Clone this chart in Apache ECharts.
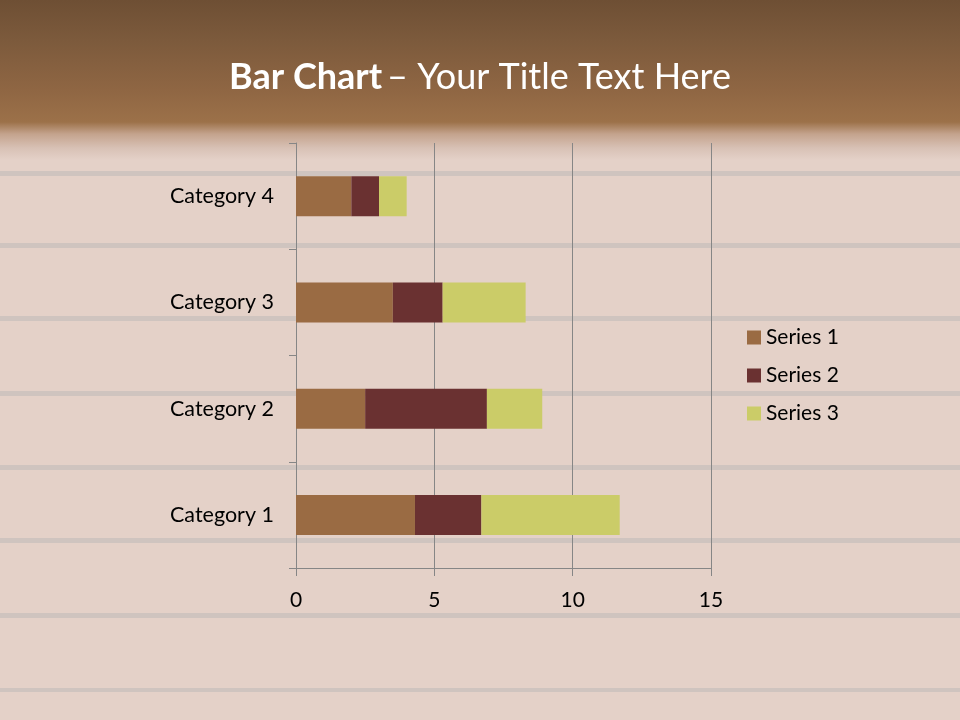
<!DOCTYPE html>
<html>
<head>
<meta charset="utf-8">
<script src="https://cdn.jsdelivr.net/npm/echarts@6/dist/echarts.min.js"></script>
<style>
html,body{margin:0;padding:0;}
#bg{position:absolute;left:0;top:0;width:960px;height:720px;
background:
 linear-gradient(to bottom,#6e4f34 0px,#7c5a3c 40px,#8f6643 90px,#9c7149 122px,#c4a38d 134px,#d8c1b5 148px,rgba(226,207,197,0) 160px),
 linear-gradient(to bottom,transparent 171px,#cfc4bf 171px,#cfc4bf 176px,transparent 176px,
  transparent 243px,#cfc4bf 243px,#cfc4bf 248px,transparent 248px,
  transparent 316px,#cfc4bf 316px,#cfc4bf 321px,transparent 321px,
  transparent 391px,#cfc4bf 391px,#cfc4bf 396px,transparent 396px,
  transparent 465px,#cfc4bf 465px,#cfc4bf 470px,transparent 470px,
  transparent 538px,#cfc4bf 538px,#cfc4bf 543px,transparent 543px,
  transparent 613px,#cfc4bf 613px,#cfc4bf 618px,transparent 618px,
  transparent 688px,#cfc4bf 688px,#cfc4bf 692px,transparent 692px),
 #e4d1c8;}
#chart{position:absolute;left:0;top:0;width:960px;height:720px;}
</style>
</head>
<body>
<div id="bg"></div>
<div id="chart"></div>
<script>
var categories = ['Category 1','Category 2','Category 3','Category 4'];
var seriesNames = ['Series 1','Series 2','Series 3'];
var series1 = [4.3, 2.5, 3.5, 2.0];
var series2 = [2.4, 4.4, 1.8, 1.0];
var series3 = [5.0, 2.0, 3.0, 1.0];
var xTicks = [0, 5, 10, 15];

var colors = ['#9a6b43','#6a3131','#cbcc68'];
var fontFam = 'Lato, "Open Sans", sans-serif';
var chart = echarts.init(document.getElementById('chart'), null, {renderer:'canvas'});
var data = [series1, series2, series3];
chart.setOption({
  backgroundColor: 'transparent',
  color: colors,
  title: {
    text: '{b|Bar Chart} {r|– Your Title Text Here}',
    left: 'center',
    top: 54,
    textStyle: {
      rich: {
        b: {fontFamily: fontFam, fontSize: 36, fontWeight: 'bold', color: '#ffffff'},
        r: {fontFamily: fontFam, fontSize: 36, fontWeight: 'normal', color: '#ffffff'}
      }
    }
  },
  legend: {
    orient: 'vertical',
    left: 747,
    top: 327,
    padding: 0,
    itemWidth: 14,
    itemHeight: 14,
    itemGap: 17,
    icon: 'rect',
    data: seriesNames,
    textStyle: {fontFamily: fontFam, fontSize: 21, color: '#000'}
  },
  grid: {left: 296, top: 143, width: 415, height: 425, containLabel: false},
  xAxis: {
    type: 'value',
    min: xTicks[0],
    max: xTicks[xTicks.length-1],
    interval: 5,
    axisLine: {show: true, lineStyle: {color: '#868686', width: 1}},
    axisTick: {show: true, length: 8, lineStyle: {color: '#868686'}},
    splitLine: {show: true, lineStyle: {color: '#868686', width: 1}},
    axisLabel: {fontFamily: fontFam, fontSize: 21, color: '#000', margin: 22}
  },
  yAxis: {
    type: 'category',
    data: categories,
    axisLine: {show: true, lineStyle: {color: '#868686', width: 1}},
    axisTick: {show: true, length: 7, lineStyle: {color: '#868686'}},
    axisLabel: {fontFamily: fontFam, fontSize: 21.5, color: '#000', margin: 22}
  },
  series: seriesNames.map(function(n, i){
    return {
      name: n,
      type: 'bar',
      stack: 'total',
      barWidth: 40,
      data: data[i]
    };
  })
});
</script>
</body>
</html>
